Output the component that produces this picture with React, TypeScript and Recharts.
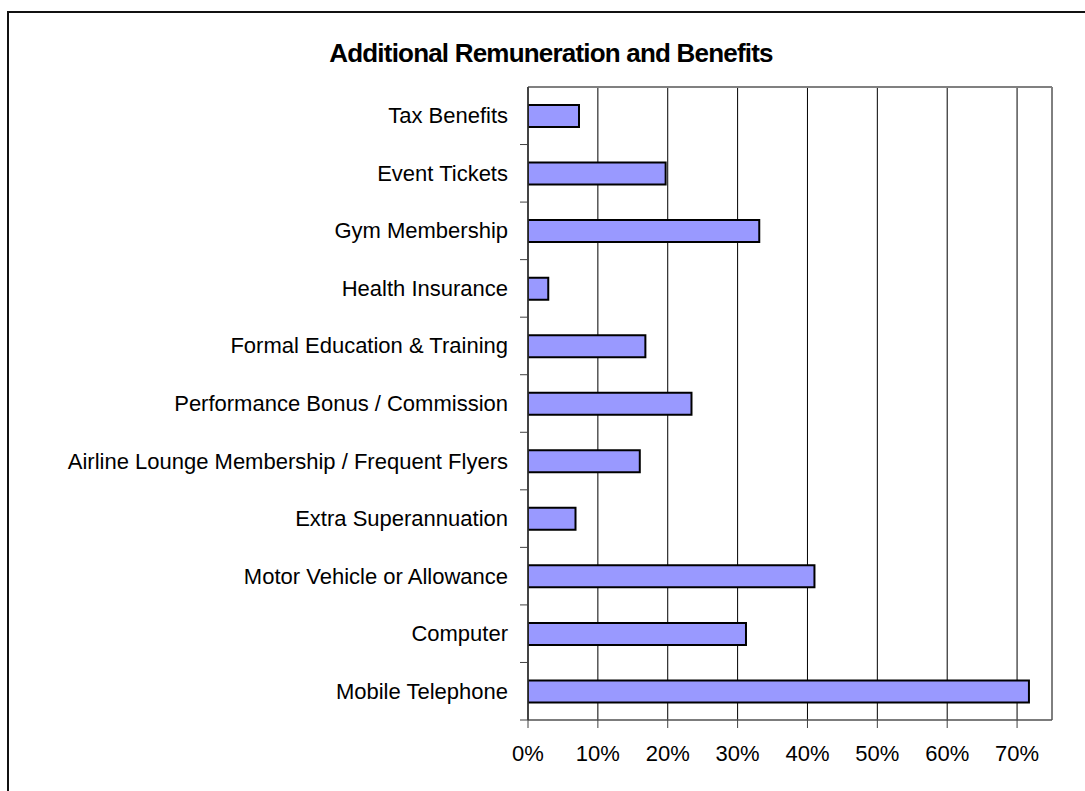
import { BarChart, Bar, XAxis, YAxis, CartesianGrid } from "recharts";

const categories = [
  "Tax Benefits",
  "Event Tickets",
  "Gym Membership",
  "Health Insurance",
  "Formal Education & Training",
  "Performance Bonus / Commission",
  "Airline Lounge Membership / Frequent Flyers",
  "Extra Superannuation",
  "Motor Vehicle or Allowance",
  "Computer",
  "Mobile Telephone",
];

const shares = [0.073, 0.197, 0.331, 0.029, 0.168, 0.234, 0.16, 0.068, 0.41, 0.312, 0.717];

const xTicks = [0, 0.1, 0.2, 0.3, 0.4, 0.5, 0.6, 0.7];

const data = categories.map((name, i) => ({ name, value: shares[i] }));

const W = 1085;
const H = 791;
const MARGIN = { top: 87, right: 33, bottom: 0, left: 0 };
const X_AXIS_H = 71;
const Y_AXIS_W = 528;
const BAND = (H - MARGIN.top - MARGIN.bottom - X_AXIS_H) / categories.length;
const FONT = "'Liberation Sans', Arial, sans-serif";

function CategoryTick(props: any) {
  const { x, y, payload } = props;
  return (
    <g>
      <text
        x={x - 20}
        y={y}
        textAnchor="end"
        dominantBaseline="central"
        fontSize={22}
        fontFamily={FONT}
        fill="#000"
      >
        {payload.value}
      </text>
      <line x1={x - 8} x2={x} y1={y + BAND / 2} y2={y + BAND / 2} stroke="#404040" strokeWidth={1} />
    </g>
  );
}

export default function App() {
  return (
    <div
      style={{
        position: "absolute",
        left: 0,
        top: 0,
        width: W,
        height: H,
        overflow: "hidden",
        background: "#fff",
        fontFamily: FONT,
      }}
    >
      <div
        style={{
          position: "absolute",
          left: 7,
          top: 11,
          width: 2000,
          height: 2000,
          border: "2px solid #111",
        }}
      />
      <div
        style={{
          position: "absolute",
          left: 0,
          top: 40,
          width: 1102,
          textAlign: "center",
          fontWeight: "bold",
          fontSize: 26,
          lineHeight: "26px",
          letterSpacing: -0.8,
          color: "#000",
        }}
      >
        Additional Remuneration and Benefits
      </div>
      <div style={{ position: "absolute", left: 0, top: 0 }}>
        <BarChart width={W} height={H} data={data} layout="vertical" margin={MARGIN}>
          <CartesianGrid horizontal={false} stroke="#000" strokeWidth={1} />
          {/* plot frame top edge */}
          <CartesianGrid
            vertical={false}
            horizontalPoints={[MARGIN.top]}
            stroke="#808080"
            strokeWidth={2}
          />
          <XAxis
            type="number"
            domain={[0, 0.75]}
            ticks={xTicks}
            allowDataOverflow
            tickFormatter={(v: number) => `${Math.round(v * 100)}%`}
            tick={{ fontSize: 22, fill: "#000", fontFamily: FONT }}
            tickSize={8}
            tickMargin={17}
            axisLine={{ stroke: "#505050", strokeWidth: 1.5 }}
            tickLine={{ stroke: "#404040" }}
            height={X_AXIS_H}
          />
          <YAxis
            type="category"
            dataKey="name"
            width={Y_AXIS_W}
            tick={<CategoryTick />}
            tickSize={0}
            tickMargin={0}
            tickLine={false}
            axisLine={{ stroke: "#303030", strokeWidth: 1.5 }}
            interval={0}
          />
          <YAxis
            yAxisId="right"
            orientation="right"
            type="category"
            dataKey="name"
            width={0}
            tick={false}
            tickLine={false}
            axisLine={{ stroke: "#808080", strokeWidth: 2 }}
          />
          <Bar
            dataKey="value"
            fill="#9999FF"
            stroke="#000"
            strokeWidth={2}
            barSize={22}
            isAnimationActive={false}
          />
        </BarChart>
      </div>
    </div>
  );
}
